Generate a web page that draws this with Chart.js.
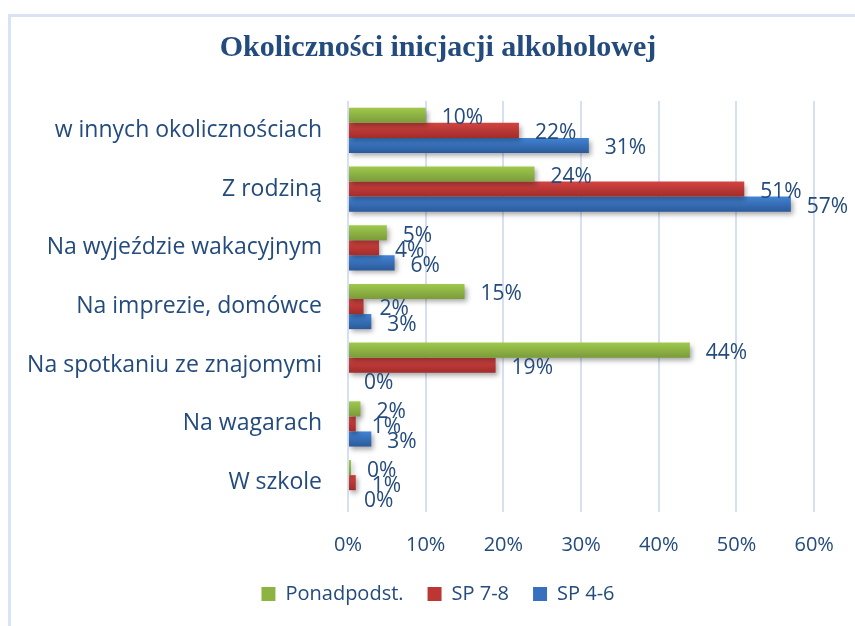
<!DOCTYPE html>
<html lang="pl">
<head>
    <meta charset="UTF-8">
    <title>Okoliczności inicjacji alkoholowej</title>
    <script src="https://cdnjs.cloudflare.com/ajax/libs/Chart.js/4.4.1/chart.umd.min.js"></script>
    <style>
        body { margin: 0; background: #fff; }
        .frame {
            position: absolute; left: 8px; top: 14px; width: 900px; height: 700px;
            border-left: 3px solid #DAE3F3; border-top: 3px solid #DAE3F3;
        }
        .wrap { position: absolute; left: 0; top: 0; width: 855px; height: 626px; }
    </style>
</head>
<body>
    <div class="frame"></div>
    <div class="wrap"><canvas id="chart" width="855" height="626"></canvas></div>
    <script>
        // categories, top to bottom
        const categories = [
            'w innych okolicznościach',
            'Z rodziną',
            'Na wyjeździe wakacyjnym',
            'Na imprezie, domówce',
            'Na spotkaniu ze znajomymi',
            'Na wagarach',
            'W szkole'
        ];
        const seriesNames = ['Ponadpodst.', 'SP 7-8', 'SP 4-6'];
        const ponadpodst = [10, 24, 5, 15, 44, 1.6, 0.4];
        const sp78 = [22, 51, 4, 2, 19, 1, 1];
        const sp46 = [31, 57, 6, 3, 0, 3, 0];
        const xTicks = [0, 10, 20, 30, 40, 50, 60];

        const CAT_PCT = 0.77;
        const labelColor = '#234B7D';
        const font = "'Open Sans', 'Noto Sans', sans-serif";

        // vertical gradient per bar, like the Excel style
        function grad(top, bottom) {
            return function (ctx) {
                const chart = ctx.chart;
                const ca = chart.chartArea;
                if (!ca || ctx.type !== 'data') return top;
                const c = chart.scales.y.getPixelForValue(ctx.dataIndex);
                const catH = (ca.bottom - ca.top) / categories.length * CAT_PCT;
                const h = catH / 3;
                const y0 = c - catH / 2 + ctx.datasetIndex * h;
                const g = chart.ctx.createLinearGradient(0, y0, 0, y0 + h);
                g.addColorStop(0, top);
                g.addColorStop(1, bottom);
                return g;
            };
        }

        const solid = ['#8DB443', '#BE3634', '#3670BE'];

        const shadowPlugin = {
            id: 'shadow',
            afterLayout(chart) {
                // pull the legend up a bit, leaving the plot where it is
                const lg = chart.legend;
                if (lg) { lg.top -= 18; lg.bottom -= 18; }
            },
            beforeDatasetsDraw(chart) {
                const c = chart.ctx;
                c.save();
                c.shadowColor = 'rgba(0,0,0,0.35)';
                c.shadowBlur = 5;
                c.shadowOffsetX = 2;
                c.shadowOffsetY = 3;
            },
            afterDatasetsDraw(chart) {
                const c = chart.ctx;
                c.restore();
                // data labels
                c.save();
                c.font = '21px ' + font;
                c.fillStyle = labelColor;
                c.textAlign = 'left';
                c.textBaseline = 'middle';
                chart.data.datasets.forEach((ds, di) => {
                    chart.getDatasetMeta(di).data.forEach((el, i) => {
                        c.fillText(Math.round(ds.data[i]) + '%', el.x + 16, el.y + 3);
                    });
                });
                c.restore();
            }
        };

        new Chart(document.getElementById('chart'), {
            type: 'bar',
            data: {
                labels: categories,
                datasets: [
                    { label: seriesNames[0], data: ponadpodst, backgroundColor: grad('#9FC94D', '#7B9B3A') },
                    { label: seriesNames[1], data: sp78, backgroundColor: grad('#D24441', '#A22C2A') },
                    { label: seriesNames[2], data: sp46, backgroundColor: grad('#4283D4', '#2B5A9A') }
                ]
            },
            options: {
                indexAxis: 'y',
                responsive: false,
                animation: false,
                categoryPercentage: CAT_PCT,
                barPercentage: 1,
                layout: { padding: { left: 23, right: 2, top: 30, bottom: -6 } },
                plugins: {
                    tooltip: { enabled: false },
                    title: {
                        display: true,
                        text: 'Okoliczności inicjacji alkoholowej',
                        color: labelColor,
                        font: { family: "'Liberation Serif', 'Times New Roman', serif", size: 30, weight: 'bold' },
                        padding: { top: 0, bottom: 35 }
                    },
                    legend: {
                        position: 'bottom',
                        labels: {
                            color: labelColor,
                            font: { family: font, size: 20 },
                            boxWidth: 14,
                            boxHeight: 14,
                            padding: 24,
                            generateLabels(chart) {
                                const items = Chart.defaults.plugins.legend.labels.generateLabels(chart);
                                items.forEach((it, i) => { it.fillStyle = solid[i]; it.strokeStyle = solid[i]; it.lineWidth = 0; });
                                return items;
                            }
                        }
                    }
                },
                scales: {
                    x: {
                        min: 0,
                        // room on the right for the 57% label; gridlines stop at 60%
                        max: 64.5,
                        afterBuildTicks(scale) { scale.ticks = xTicks.map(v => ({ value: v })); },
                        grid: { color: '#D6E0F1', lineWidth: 2, drawTicks: false },
                        border: { display: false },
                        ticks: {
                            color: labelColor,
                            font: { family: font, size: 20 },
                            padding: 21,
                            callback: v => v + '%'
                        }
                    },
                    y: {
                        afterFit(scale) { scale.width = 325; },
                        grid: { display: false, drawTicks: false },
                        border: { display: false },
                        ticks: {
                            color: labelColor,
                            font: { family: font, size: 23 },
                            padding: 26
                        }
                    }
                }
            },
            plugins: [shadowPlugin]
        });
    </script>
</body>
</html>
